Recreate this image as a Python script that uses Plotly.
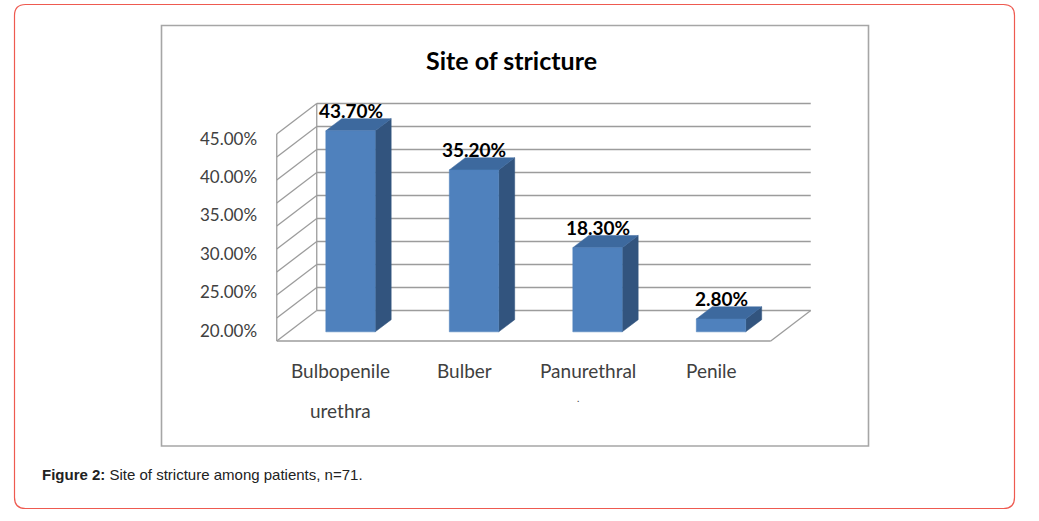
import plotly.graph_objects as go

# ---------------- data ----------------
categories = ["Bulbopenile", "Bulber", "Panurethral", "Penile"]
category_second_line = ["urethra", "", ".", ""]
values = [43.7, 35.2, 18.3, 2.8]            # percent
value_labels = ["43.70%", "35.20%", "18.30%", "2.80%"]
grid_values = [0, 5, 10, 15, 20, 25, 30, 35, 40, 45]
y_tick_labels = ["20.00%", "25.00%", "30.00%", "35.00%", "40.00%", "45.00%"]
title_text = "Site of stricture"
caption_bold = "Figure 2:"
caption_text = " Site of stricture among patients, n=71."

# ---------------- layout constants ----------------
W, H = 1039, 521
X0_PX, X_UNIT_PX = 338.5, 123.5     # pixel of category 0 (front plane), px per category
Y0_PX, Y_UNIT_PX = 341.0, 4.6       # pixel of 0% (front plane), px per percent
DDX = 40.0 / X_UNIT_PX              # full depth offset, x data units
DDY = 30.5 / Y_UNIT_PX              # full depth offset, y data units
BAR_W = 0.40
BAR_D0, BAR_D1 = 0.30, 0.70
X_LEFT, X_RIGHT = -0.5, len(categories) - 0.5

FRONT = "#4F81BD"
TOP = "#3D699E"
SIDE = "#32547E"
GRID = "#9C9C9C"
FONT = "Lato, Carlito, Calibri, sans-serif"


def px_x(d):
    return (d - X0_PX) / X_UNIT_PX


def px_y(d):
    return (Y0_PX - d) / Y_UNIT_PX


fig = go.Figure()


def add_line(xs, ys, color=GRID, width=1.3):
    fig.add_trace(go.Scatter(x=xs, y=ys, mode="lines",
                             line=dict(color=color, width=width),
                             hoverinfo="skip", showlegend=False))


def add_poly(xs, ys, color):
    fig.add_trace(go.Scatter(x=xs + [xs[0]], y=ys + [ys[0]], mode="lines",
                             fill="toself", fillcolor=color,
                             line=dict(color=color, width=0.5),
                             hoverinfo="skip", showlegend=False))


# ---------- walls / gridlines ----------
top_v = grid_values[-1]
for g in grid_values:
    add_line([X_LEFT + DDX, X_RIGHT + DDX], [g + DDY, g + DDY])
for g in grid_values:
    add_line([X_LEFT, X_LEFT + DDX], [g, g + DDY])
add_line([X_LEFT, X_LEFT], [0, top_v])
add_line([X_LEFT + DDX, X_LEFT + DDX], [DDY, top_v + DDY])
add_line([X_LEFT, X_RIGHT], [0, 0])
add_line([X_RIGHT, X_RIGHT + DDX], [0, DDY])

# ---------- 3D bars ----------
for i, v in enumerate(values):
    cx = i + BAR_D0 * DDX
    xl, xr = cx - BAR_W / 2, cx + BAR_W / 2
    b = BAR_D0 * DDY
    t = v + BAR_D0 * DDY
    dx = (BAR_D1 - BAR_D0) * DDX
    dy = (BAR_D1 - BAR_D0) * DDY
    add_poly([xr, xr + dx, xr + dx, xr], [b, b + dy, t + dy, t], SIDE)
    add_poly([xl, xr, xr + dx, xl + dx], [t, t, t + dy, t + dy], TOP)
    add_poly([xl, xr, xr, xl], [b, b, t, t], FRONT)

annotations = []
for i, (v, lab) in enumerate(zip(values, value_labels)):
    annotations.append(dict(x=i + BAR_D0 * DDX, y=v + BAR_D0 * DDY, xref="x", yref="y",
                            text=f"<b>{lab}</b>", showarrow=False, yanchor="middle",
                            yshift=20, font=dict(family=FONT, size=19, color="#000000")))
for i, (c, c2) in enumerate(zip(categories, category_second_line)):
    annotations.append(dict(x=i + 0.02, y=px_y(370), xref="x", yref="y", text=c,
                            showarrow=False, yanchor="middle",
                            font=dict(family=FONT, size=19, color="#404040")))
    if c2:
        annotations.append(dict(x=i + (0.02 if c2 != "." else -0.06),
                                y=px_y(410 if c2 != "." else 398),
                                xref="x", yref="y", text=c2, showarrow=False, yanchor="middle",
                                font=dict(family=FONT, size=19 if c2 != "." else 10, color="#404040")))
for k, lab in enumerate(y_tick_labels):
    annotations.append(dict(x=px_x(259), y=px_y(330 - 38.4 * k), xref="x", yref="y", text=lab,
                            showarrow=False, xanchor="right", yanchor="middle",
                            font=dict(family=FONT, size=17, color="#404040")))
annotations.append(dict(x=511 / W, y=1 - 60 / H, xref="paper", yref="paper",
                        text=f"<b>{title_text}</b>", showarrow=False, yanchor="middle",
                        font=dict(family=FONT, size=25, color="#000000")))
annotations.append(dict(x=40 / W, y=1 - 474 / H, xref="paper", yref="paper", xanchor="left",
                        yanchor="middle",
                        text=f"<b>{caption_bold}</b>{caption_text}", showarrow=False,
                        font=dict(family="Liberation Sans, Arial, sans-serif", size=15, color="#222222")))


def P(x, y):
    return f"{x / W:.5f},{1 - y / H:.5f}"


L, T, R, B, r = 14.5, 4.5, 1014.5, 508.5, 11
path = (f"M {P(L + r, T)} L {P(R - r, T)} Q {P(R, T)} {P(R, T + r)} "
        f"L {P(R, B - r)} Q {P(R, B)} {P(R - r, B)} L {P(L + r, B)} "
        f"Q {P(L, B)} {P(L, B - r)} L {P(L, T + r)} Q {P(L, T)} {P(L + r, T)} Z")
shapes = [
    dict(type="path", xref="paper", yref="paper", path=path,
         line=dict(color="#EE5A50", width=1.2), layer="below"),
    dict(type="rect", xref="paper", yref="paper",
         x0=161.5 / W, x1=868.5 / W, y0=1 - 446 / H, y1=1 - 25.5 / H,
         line=dict(color="#A6A6A6", width=1.6), layer="below"),
]

fig.update_layout(
    width=W, height=H, margin=dict(l=0, r=0, t=0, b=0),
    paper_bgcolor="white", plot_bgcolor="white",
    xaxis=dict(range=[px_x(0), px_x(W)], visible=False, fixedrange=True),
    yaxis=dict(range=[px_y(H), px_y(0)], visible=False, fixedrange=True),
    annotations=annotations, shapes=shapes, showlegend=False,
)

fig.write_html("out.html")
